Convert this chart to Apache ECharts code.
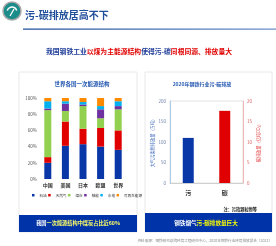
<!DOCTYPE html>
<html><head><meta charset="utf-8">
<script src="https://cdn.jsdelivr.net/npm/echarts@6/dist/echarts.min.js"></script>
<style>html,body{margin:0;padding:0;background:#fff}#c{width:276px;height:246px}</style>
</head><body><div id="c"></div>
<script>
const FONT = '"Noto Sans CJK SC","Noto Sans",sans-serif';
// Left chart: primary energy structure (%)
const categories = ['中国','美国','日本','欧盟','世界'];
const oil     = [20, 41, 43, 40, 36];
const gas     = [7, 30, 19, 23, 24];
const coal    = [58, 13, 28, 12, 26];
const nuclear = [2, 9, 2, 11, 4];
const hydro   = [9, 3, 3, 4, 6];
const renew   = [4, 4, 5, 10, 4];
const energyNames = ['石油','天然气','煤炭','核能','水电','可再生能源'];
const pctTicks = [0, 20, 40, 60, 80, 100];
// Right chart: 2020 steel industry emissions
const emitCats = ['污','碳'];
const pollution = 110;   // left axis
const carbon = 17.6;     // right axis
const leftTicks = [0, 50, 100, 150, 200];
const rightTicks = [0, 5, 10, 15, 20];

const colors = ['#0A37A8','#E00000','#92D050','#7030A0','#00B0F0','#FF8A00'];
const energyData = [oil, gas, coal, nuclear, hydro, renew];

const chart = echarts.init(document.getElementById('c'), null, {renderer:'canvas'});
const stackSeries = energyNames.map((n,i)=>({
  name:n, type:'bar', stack:'e', xAxisIndex:0, yAxisIndex:0, barWidth:7,
  itemStyle:{color:colors[i]}, data:energyData[i]
}));

chart.setOption({
  animation:false,
  textStyle:{fontFamily:FONT},
  grid:[
    {left:39, top:98, width:88, height:81},
    {left:170, top:101, width:73, height:82, show:true, borderColor:'#d0d0d0', borderWidth:0.6}
  ],
  legend:{
    data:energyNames, bottom:44, left:27, itemWidth:2.5, itemHeight:2.5, itemGap:1.5,
    textStyle:{fontSize:3.6, color:'#333', fontFamily:FONT}, icon:'rect'
  },
  xAxis:[
    {gridIndex:0, type:'category', data:categories, axisLine:{show:false}, axisTick:{show:false},
     axisLabel:{fontSize:5, fontWeight:'bold', color:'#333', margin:4}},
    {gridIndex:1, type:'category', data:emitCats, axisLine:{lineStyle:{color:'#bbb', width:0.6}}, axisTick:{show:false},
     axisLabel:{fontSize:6, fontWeight:'bold', color:'#333', margin:7}}
  ],
  yAxis:[
    {gridIndex:0, type:'value', min:pctTicks[0], max:pctTicks[pctTicks.length-1], interval:20,
     splitLine:{show:false}, axisLine:{show:false}, axisTick:{show:false},
     axisLabel:{fontSize:4.5, color:'#555', margin:2, formatter:'{value}%'}},
    {gridIndex:1, type:'value', min:leftTicks[0], max:leftTicks[leftTicks.length-1], interval:50,
     splitLine:{show:false}, axisLine:{show:true, lineStyle:{color:'#9DC3E6', width:0.8}}, axisTick:{show:false},
     axisLabel:{fontSize:4.5, color:'#6b7fa8', margin:4},
     name:'大气污染物排放量（万吨）', nameLocation:'middle', nameRotate:90, nameGap:14,
     nameTextStyle:{fontSize:4.2, color:'#2E5FB8', fontFamily:FONT}},
    {gridIndex:1, type:'value', position:'right', min:rightTicks[0], max:rightTicks[rightTicks.length-1], interval:5,
     splitLine:{show:false}, axisLine:{show:true, lineStyle:{color:'#F4A6A6', width:0.8}}, axisTick:{show:false},
     axisLabel:{fontSize:4.5, color:'#E06060', margin:4},
     name:'碳排放量（亿吨CO₂）', nameLocation:'middle', nameRotate:90, nameGap:11,
     nameTextStyle:{fontSize:4.2, color:'#E03030', fontFamily:FONT}}
  ],
  series: stackSeries.concat([
    {name:'污', type:'bar', xAxisIndex:1, yAxisIndex:1, barWidth:11, barGap:'-100%',
     itemStyle:{color:'#0A37A8'}, data:[pollution, '-']},
    {name:'碳', type:'bar', xAxisIndex:1, yAxisIndex:2, barWidth:11, barGap:'-100%',
     itemStyle:{color:'#E00000'}, data:['-', carbon]}
  ]),
  graphic:[
    // panels
    {type:'rect', z:-10, shape:{x:19, y:72, width:118, height:160}, style:{fill:'#fff', stroke:'#e2e2e2', lineWidth:0.8}},
    {type:'rect', z:-10, shape:{x:145, y:72, width:127, height:160}, style:{fill:'#fff', stroke:'#e2e2e2', lineWidth:0.8}},
    // banners
    {type:'rect', shape:{x:19, y:215, width:118, height:17}, style:{fill:'#0033A8'}},
    {type:'rect', shape:{x:145, y:213, width:127, height:19}, style:{fill:'#0033A8'}},
    {type:'text', x:78, y:223.5, style:{text:'{w|我国}{y|一次能源结构中煤炭占比近60%}', align:'center', verticalAlign:'middle',
      rich:{w:{fill:'#ffffff', fontSize:5.2, fontWeight:'bold', fontFamily:FONT}, y:{fill:'#FFFF66', fontSize:5.2, fontWeight:'bold', fontFamily:FONT}}}},
    {type:'text', x:206, y:222.5, style:{text:'{w|钢铁烟气}{y|污-碳排放量巨大}', align:'center', verticalAlign:'middle',
      rich:{w:{fill:'#ffffff', fontSize:5.6, fontWeight:'bold', fontFamily:FONT}, y:{fill:'#FFFF00', fontSize:5.6, fontWeight:'bold', fontFamily:FONT}}}},
    // chart titles
    {type:'text', x:82, y:84, style:{text:'世界各国一次能源结构', align:'center', verticalAlign:'middle', fill:'#2156B0', fontSize:5.5, fontWeight:'bold', fontFamily:FONT}},
    {type:'text', x:202, y:84, style:{text:'2020年钢铁行业污-碳排放', align:'center', verticalAlign:'middle', fill:'#2156B0', fontSize:5, fontWeight:'bold', fontFamily:FONT}},
    {type:'text', x:257, y:209, style:{text:'注：污指颗粒物等', align:'right', verticalAlign:'middle', fill:'#222', fontSize:4.2, fontWeight:'bold', fontFamily:FONT}},
    // header
    {type:'circle', shape:{cx:12, cy:11, r:9}, style:{fill:'#1C8C8A', stroke:'#a8a8a8', lineWidth:1.5}},
    {type:'arc', shape:{cx:12, cy:12, r:5, startAngle:Math.PI*1.1, endAngle:Math.PI*1.9}, style:{stroke:'#fff', lineWidth:1.5, fill:null}},
    {type:'line', shape:{x1:10, y1:16, x2:14, y2:9}, style:{stroke:'#fff', lineWidth:1.3}},
    {type:'text', x:25, y:15, style:{text:'污-碳排放居高不下', verticalAlign:'middle', fill:'#1F4E9A', fontSize:10, fontWeight:'bold', fontFamily:FONT}},
    {type:'rect', shape:{x:23, y:28.5, width:253, height:1.3}, style:{fill:new echarts.graphic.LinearGradient(0,0,1,0,[{offset:0,color:'#1F4E9A'},{offset:1,color:'#6C8FC8'}])}},
    {type:'text', x:139, y:51, style:{text:'{b|我国钢铁工业}{r|以煤为主能源结构}{b|使得污-碳}{r|同根同源、排放量大}', align:'center', verticalAlign:'middle',
      rich:{b:{fill:'#1F3D99', fontSize:6.8, fontWeight:'bold', fontFamily:FONT}, r:{fill:'#E00000', fontSize:6.8, fontWeight:'bold', fontFamily:FONT}}}},
    // footer
    {type:'text', x:272, y:241, style:{text:'资料来源：钢铁研究总院环境工程研究中心，2020年钢铁行业环境排放报告（2021）', align:'right', verticalAlign:'middle', fill:'#888', fontSize:3.6, fontFamily:FONT}}
  ]
});
</script></body></html>
